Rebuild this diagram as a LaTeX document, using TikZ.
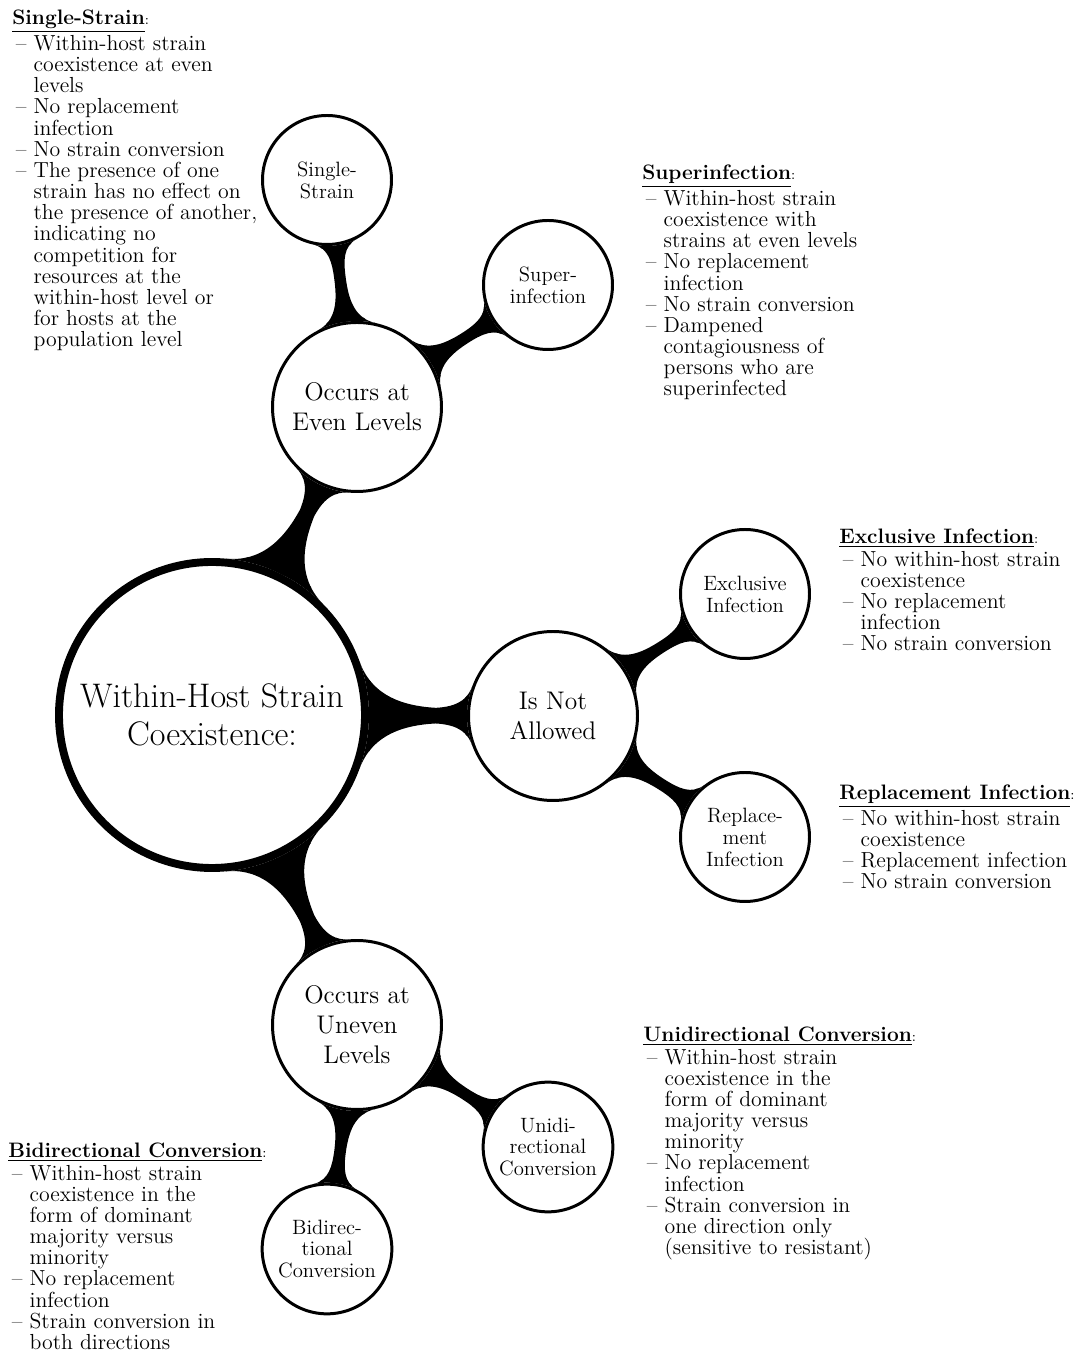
\documentclass[tikz,border=0pt]{standalone}
\usepackage{tikz}
\usetikzlibrary{mindmap,backgrounds}
\newcommand{\itm}{\hspace*{2pt}--~}
\newcommand{\cont}{\hspace*{2pt}\phantom{--~}}
\newcommand{\headline}[1]{{\fontsize{11.9}{12}\selectfont\underline{\textbf{#1}}{\footnotesize:}}\\[0.5pt]}

\begin{document}
\begin{tikzpicture}[
    hub/.style={circle, draw, line width=4.5pt, fill=white, minimum size=6.12cm, align=center, font=\fontsize{19.4}{21.5}\selectfont},
    branch/.style={circle, draw, line width=1.7pt, fill=white, minimum size=3.38cm, align=center, font=\fontsize{14.5}{17}\selectfont},
    leaf/.style={circle, draw, line width=1.7pt, fill=white, minimum size=2.58cm, align=center, font=\fontsize{11.8}{12.5}\selectfont},
    notes/.style={anchor=north west, inner sep=0pt, align=left, font=\fontsize{12.4}{12.05}\selectfont},
    bar/.style={circle connection bar switch color=from (black) to (black), line width=7pt}
]
    % Canvas
    \useasboundingbox (0,0) rectangle (21.6,27.12);

    % Root concept
    \node[hub] (root) at (4.24,12.82) {Within-Host Strain\\Coexistence:};

    % Second level
    \node[branch] (even) at (7.14,18.98) {Occurs at\\Even Levels};
    \node[branch] (notall) at (11.06,12.8) {Is Not\\Allowed};
    \node[branch] (uneven) at (7.14,6.62) {Occurs at\\Uneven\\Levels};

    % Third level
    \node[leaf] (single) at (6.54,23.52) {Single-\\Strain};
    \node[leaf] (super) at (10.96,21.42) {Super-\\infection};
    \node[leaf] (excl) at (14.9,15.24) {Exclusive\\Infection};
    \node[leaf] (repl) at (14.9,10.38) {Replace-\\ment\\Infection};
    \node[leaf] (uni) at (10.96,4.18) {Unidi-\\rectional\\Conversion};
    \node[leaf] (bi) at (6.54,2.14) {Bidirec-\\tional\\Conversion};

    % Connection bars
    \begin{pgfonlayer}{background}
        \path (root) to[bar] (even);
        \path (root) to[bar] (notall);
        \path (root) to[bar] (uneven);
        \path (even) to[bar] (single);
        \path (even) to[bar] (super);
        \path (notall) to[bar] (excl);
        \path (notall) to[bar] (repl);
        \path (uneven) to[bar] (uni);
        \path (uneven) to[bar] (bi);
    \end{pgfonlayer}

    % Descriptions
    \node[notes] (singletxt) at (0.24,26.92) {\headline{Single-Strain}
        \itm Within-host strain\\
        \cont coexistence at even\\
        \cont levels\\
        \itm No replacement\\
        \cont infection\\
        \itm No strain conversion\\
        \itm The presence of one\\
        \cont strain has no effect on\\
        \cont the presence of another,\\
        \cont indicating no\\
        \cont competition for\\
        \cont resources at the\\
        \cont within-host level or\\
        \cont for hosts at the\\
        \cont population level};

    \node[notes] (supertxt) at (12.84,23.82) {\headline{Superinfection}
        \itm Within-host strain\\
        \cont coexistence with\\
        \cont strains at even levels\\
        \itm No replacement\\
        \cont infection\\
        \itm No strain conversion\\
        \itm Dampened\\
        \cont contagiousness of\\
        \cont persons who are\\
        \cont superinfected};

    \node[notes] (excltxt) at (16.78,16.54) {\headline{Exclusive Infection}
        \itm No within-host strain\\
        \cont coexistence\\
        \itm No replacement\\
        \cont infection\\
        \itm No strain conversion};

    \node[notes] (repltxt) at (16.78,11.42) {\headline{Replacement Infection}
        \itm No within-host strain\\
        \cont coexistence\\
        \itm Replacement infection\\
        \itm No strain conversion};

    \node[notes] (unitxt) at (12.86,6.58) {\headline{Unidirectional Conversion}
        \itm Within-host strain\\
        \cont coexistence in the\\
        \cont form of dominant\\
        \cont majority versus\\
        \cont minority\\
        \itm No replacement\\
        \cont infection\\
        \itm Strain conversion in\\
        \cont one direction only\\
        \cont (sensitive to resistant)};

    \node[notes] (bitxt) at (0.16,4.26) {\headline{Bidirectional Conversion}
        \itm Within-host strain\\
        \cont coexistence in the\\
        \cont form of dominant\\
        \cont majority versus\\
        \cont minority\\
        \itm No replacement\\
        \cont infection\\
        \itm Strain conversion in\\
        \cont both directions};
\end{tikzpicture}
\end{document}
